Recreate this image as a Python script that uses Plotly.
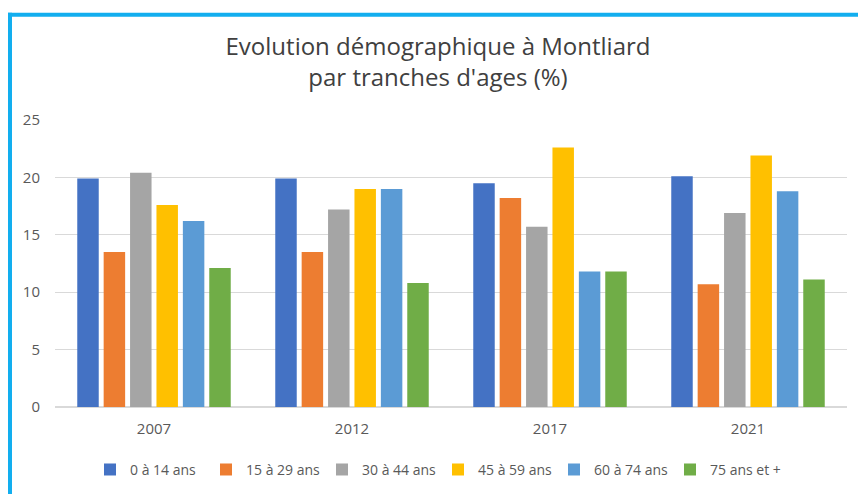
import plotly.graph_objects as go

years = ["2007", "2012", "2017", "2021"]
series_names = ["0 à 14 ans", "15 à 29 ans", "30 à 44 ans", "45 à 59 ans", "60 à 74 ans", "75 ans et +"]
age_0_14 = [19.9, 19.9, 19.5, 20.1]
age_15_29 = [13.5, 13.5, 18.2, 10.7]
age_30_44 = [20.4, 17.2, 15.7, 16.9]
age_45_59 = [17.6, 19.0, 22.6, 21.9]
age_60_74 = [16.2, 19.0, 11.8, 18.8]
age_75_plus = [12.1, 10.8, 11.8, 11.1]
colors = ["#4472C4", "#ED7D31", "#A5A5A5", "#FFC000", "#5B9BD5", "#70AD47"]

all_series = [age_0_14, age_15_29, age_30_44, age_45_59, age_60_74, age_75_plus]

fig = go.Figure()
for name, vals, col in zip(series_names, all_series, colors):
    fig.add_trace(go.Bar(x=years, y=vals, name=name, marker=dict(color=col, line=dict(width=0))))

W, H = 858, 494
L, R, T, B = 55, 11, 119.5, 87
pw = W - L - R
ph = H - T - B

def px_x(x):
    return (x - L) / pw

def px_y(y):
    return (H - B - y) / ph

font_family = "Open Sans, Noto Sans, sans-serif"

fig.update_layout(
    width=W, height=H,
    margin=dict(l=L, r=R, t=T, b=B, autoexpand=False),
    paper_bgcolor="white", plot_bgcolor="white",
    barmode="group", bargap=0.2, bargroupgap=0.186,
    font=dict(family=font_family, color="#595959", size=15),
    title=dict(
        text="Evolution démographique à Montliard<br>par tranches d'ages (%)",
        x=438 / W, xanchor="center", xref="container",
        y=1 - 55 / H, yanchor="top", yref="container",
        font=dict(family=font_family, size=24, color="#404040"),
    ),
    xaxis=dict(showgrid=False, showline=True, linecolor="#D9D9D9", linewidth=1,
               ticks="", ticklabelstandoff=8, tickfont=dict(size=15, color="#595959")),
    yaxis=dict(range=[0, 25], dtick=5, showgrid=True, gridcolor="#D9D9D9", gridwidth=1,
               zeroline=True, zerolinecolor="#D9D9D9", showline=False, ticks="",
               ticklabelstandoff=14, tickfont=dict(size=15, color="#595959")),
    legend=dict(orientation="h", x=px_x(90), xanchor="left", y=px_y(470), yanchor="middle",
                font=dict(size=14, color="#595959"), entrywidth=71, entrywidthmode="pixels",
                itemwidth=30, traceorder="normal"),
    shapes=[
        dict(type="line", xref="paper", yref="paper", x0=px_x(8), x1=px_x(W + 5), y0=px_y(14), y1=px_y(14),
             line=dict(color="#12AEEF", width=4)),
        dict(type="line", xref="paper", yref="paper", x0=px_x(10), x1=px_x(10), y0=px_y(12), y1=px_y(H + 5),
             line=dict(color="#12AEEF", width=4)),
    ],
)

fig.write_html("out.html", config={"displayModeBar": False},
               post_script="document.body.style.margin='0';")
